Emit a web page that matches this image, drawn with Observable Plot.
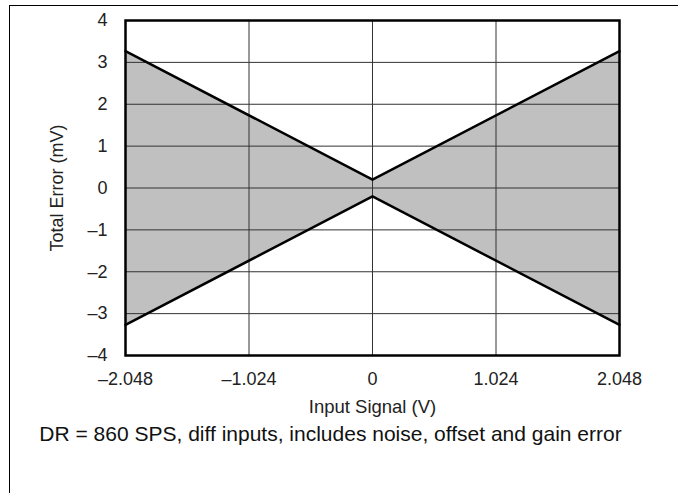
<!DOCTYPE html>
<html>
<head>
<meta charset="utf-8">
<script src="https://cdn.jsdelivr.net/npm/d3@7"></script>
<script src="https://cdn.jsdelivr.net/npm/@observablehq/plot@0.6"></script>
<style>
  html, body { margin: 0; padding: 0; background: #fff; overflow: hidden; }
  #wrap { position: relative; width: 678px; height: 493px; }
  #border { position: absolute; left: 9px; top: 5px; width: 800px; height: 800px; border: 1.5px solid #000; box-sizing: border-box; }
  #chart { position: absolute; left: 0; top: 0; }
</style>
</head>
<body>
<div id="wrap"><div id="border"></div><div id="chart"></div></div>
<script>
const inputSignal = [-2.048, 0, 2.048];
const upperError = [3.27, 0.2, 3.27];
const lowerError = [-3.27, -0.2, -3.27];
const xTicks = [-2.048, -1.024, 0, 1.024, 2.048];
const yTicks = [-4, -3, -2, -1, 0, 1, 2, 3, 4];
const xLabel = "Input Signal (V)";
const yLabel = "Total Error (mV)";
const caption = "DR = 860 SPS, diff inputs, includes noise, offset and gain error";

const rows = inputSignal.map((x, i) => ({x, hi: upperError[i], lo: lowerError[i]}));
const fmtX = d => d === 0 ? "0" : (d < 0 ? "\u2013" : "") + Math.abs(d).toFixed(3);
const fmtY = d => d < 0 ? "\u2013" + Math.abs(d) : String(d);
const font = "'Liberation Sans', Arial, Helvetica, sans-serif";

const chart = Plot.plot({
  width: 678,
  height: 493,
  marginLeft: 125,
  marginRight: 59,
  marginTop: 20,
  marginBottom: 138,
  style: {fontFamily: font, fontSize: "18px", color: "#222", background: "transparent"},
  x: {domain: [-2.048, 2.048], ticks: xTicks, tickFormat: fmtX, tickSize: 0, tickPadding: 17, label: null},
  y: {domain: [-4, 4], ticks: yTicks, tickFormat: fmtY, tickSize: 0, tickPadding: 18, label: null},
  marks: [
    Plot.areaY(rows, {x: "x", y1: "lo", y2: "hi", fill: "#c0c0c0"}),
    Plot.ruleX(xTicks.slice(1, -1), {stroke: "#333", strokeWidth: 1}),
    Plot.ruleY(yTicks.slice(1, -1), {stroke: "#333", strokeWidth: 1}),
    Plot.lineY(rows, {x: "x", y: "hi", stroke: "#000", strokeWidth: 2.5}),
    Plot.lineY(rows, {x: "x", y: "lo", stroke: "#000", strokeWidth: 2.5}),
    Plot.frame({stroke: "#000", strokeWidth: 2.5}),
    Plot.axisX({ticks: xTicks, tickFormat: fmtX, tickSize: 0, tickPadding: 17, fontSize: 18, label: null}),
    Plot.axisY({ticks: yTicks, tickFormat: fmtY, tickSize: 0, tickPadding: 18, fontSize: 18, label: null}),
    Plot.text([xLabel], {frameAnchor: "bottom", dy: 57, fontSize: 18.5, fill: "#222"}),
    Plot.text([yLabel], {frameAnchor: "left", dx: -68, rotate: -90, textAnchor: "middle", lineAnchor: "middle", fontSize: 18, fill: "#222"}),
    Plot.text([caption], {frameAnchor: "bottom", dx: -42, dy: 85, fontSize: 21, fill: "#111"})
  ]
});
document.getElementById("chart").appendChild(chart);
</script>
</body>
</html>
